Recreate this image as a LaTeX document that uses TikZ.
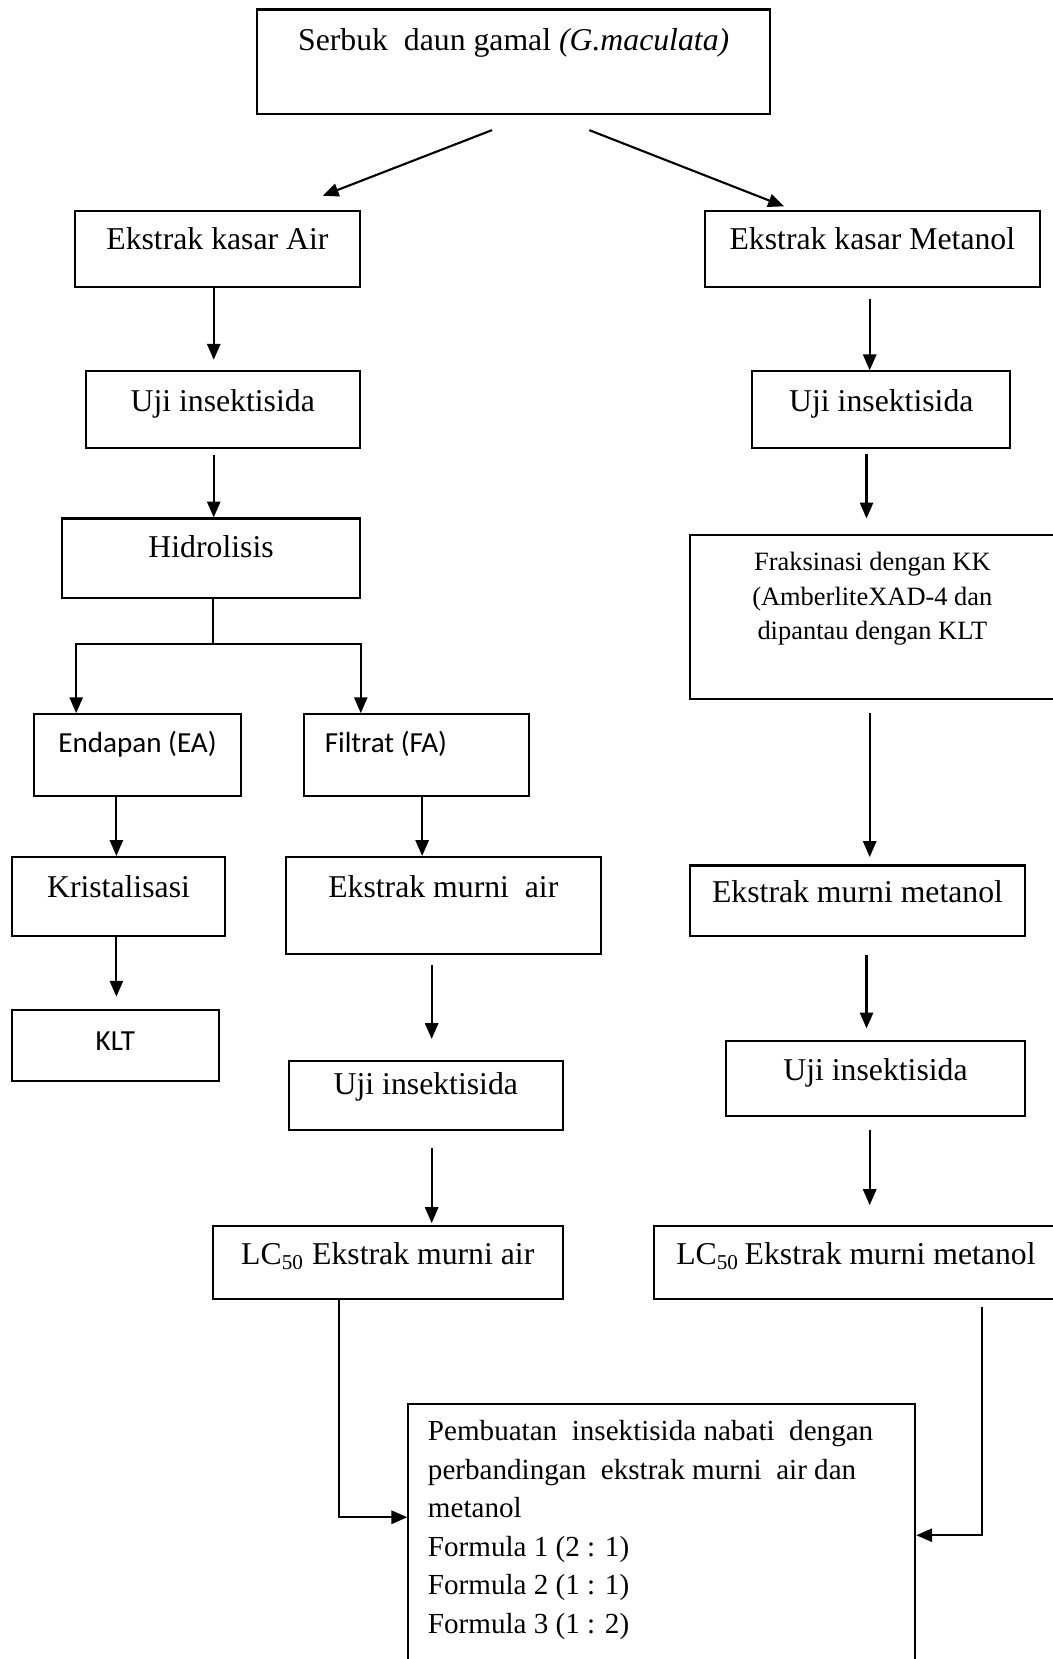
\documentclass[tikz,border=0pt]{standalone}
\usepackage{fontspec}
\setmainfont{Liberation Serif}
\newfontfamily\sansbox{Carlito}
\usetikzlibrary{arrows.meta}
\newcommand{\px}{0.4pt}

\tikzset{
  box/.style n args={3}{draw, line width=0.8pt, anchor=north, inner sep=0pt,
    minimum width=#1*\px, text height=#3*\px, text depth=(#2-#3)*\px,
    font=\fontsize{12}{14}\selectfont},
  bigbox/.style n args={2}{draw, line width=0.8pt, anchor=north, inner sep=0pt,
    minimum width=#1*\px, minimum height=#2*\px},
  sanstext/.style={font=\sansbox\fontsize{11}{13}\selectfont},
  arr/.style={-{Triangle[length=6pt,width=5pt]}, line width=0.8pt},
  link/.style={line width=0.8pt}
}

\begin{document}
\begin{tikzpicture}[x=\px,y=-\px]
                        \useasboundingbox (0,0) rectangle (995,1568);
                        \clip (0,0) rectangle (995,1568);
                        % Top
                        \node[box={485}{99}{39}] (serbuk) at (485.5,8) {Serbuk~ daun gamal \textit{(G.maculata)}};
                        % Air branch
                        \node[box={269}{72}{37}] (ekair) at (205.5,198) {Ekstrak kasar Air};
                        \node[box={259}{72}{38}] (ujiL) at (210.5,350) {Uji insektisida};
                        \node[box={281}{75}{37}] (hidro) at (199.5,489) {Hidrolisis};
                        \node[box={196}{77}{36},sanstext] (ea) at (130,674) {Endapan (EA)};
                        \node[box={213}{77}{36},sanstext] (fa) at (393.5,674) {\makebox[85.2pt][l]{\hspace{8pt}Filtrat (FA)}};
                        \node[box={202}{75}{38}] (kris) at (112,809) {Kristalisasi};
                        \node[box={298}{92}{38}] (emair) at (419,809) {Ekstrak murni~ air};
                        \node[box={196}{67}{38},sanstext] (klt) at (109,954) {KLT};
                        \node[box={259}{65}{31}] (ujiM) at (402.5,1002) {Uji insektisida};
                        \node[box={331}{69}{36}] (lcair) at (366.5,1158) {LC\textsubscript{50} Ekstrak murni air};
                        % Metanol branch
                        \node[box={317}{72}{37}] (ekmet) at (824.5,198) {Ekstrak kasar Metanol};
                        \node[box={244}{72}{38}] (ujiR) at (833,350) {Uji insektisida};
                        \node[bigbox={345}{155}] (frak) at (824.5,505) {};
                        \node[anchor=north,align=center,inner sep=0pt,font=\fontsize{10}{13.2}\selectfont] (fraktxt) at ([shift={(0,16)}]frak.north) {Fraksinasi dengan KK\\(AmberliteXAD-4 dan\\dipantau dengan KLT};
                        \node[box={317}{67}{35}] (emmet) at (810.5,817) {Ekstrak murni metanol};
                        \node[box={283}{71}{37}] (ujiR2) at (827.5,983) {Uji insektisida};
                        \node[box={382}{69}{36}] (lcmet) at (809,1158) {LC\textsubscript{50}\,Ekstrak murni metanol};
                        % Formula
                        \node[bigbox={479}{300}] (pemb) at (625.5,1326) {};
                        \node[anchor=north west,align=left,inner sep=0pt,font=\fontsize{11}{14.56}\selectfont] (pembtxt) at ([shift={(19,16)}]pemb.north west) {Pembuatan~ insektisida nabati~ dengan\\perbandingan~ ekstrak murni~ air dan\\metanol\\Formula 1 (2 : 1)\\Formula 2 (1 : 1)\\Formula 3 (1 : 2)};
                        % links
                        \draw[arr] ([shift={(-20.5,14)}]serbuk.south) -- ([shift={(99.5,-13)}]ekair.north);
                        \draw[arr] ([shift={(71.5,14)}]serbuk.south) -- ([shift={(-83.5,-3)}]ekmet.north);
                        \draw[arr] ([shift={(-3.5,0)}]ekair.south) -- ([shift={(-8.5,-10)}]ujiL.north);
                        \draw[arr] ([shift={(-8.5,6)}]ujiL.south) -- ([shift={(2.5,0)}]hidro.north);
                        \coordinate (split) at ([shift={(1.5,43)}]hidro.south);
                        \draw[link] ([shift={(1.5,0)}]hidro.south) -- (split);
                        \draw[arr] (split) -| ([shift={(-58,0)}]ea.north);
                        \draw[arr] (split) -| ([shift={(-52.5,0)}]fa.north);
                        \draw[arr] ([shift={(-20,0)}]ea.south) -- ([shift={(-2,0)}]kris.north);
                        \draw[arr] ([shift={(5.5,0)}]fa.south) -- ([shift={(-20,0)}]emair.north);
                        \draw[arr] ([shift={(-2,0)}]kris.south) -- ([shift={(1,-12)}]klt.north);
                        \draw[arr] ([shift={(-11,9)}]emair.south) -- ([shift={(5.5,-20)}]ujiM.north);
                        \draw[arr] ([shift={(5.5,16)}]ujiM.south) -- ([shift={(41.5,-2)}]lcair.north);
                        \draw[arr] ([shift={(-46.5,0)}]lcair.south) |- ([shift={(0,108)}]pemb.north west);
                        \draw[arr] ([shift={(-2.5,11)}]ekmet.south) -- ([shift={(-11,0)}]ujiR.north);
                        \draw[arr] ([shift={(-14,5)}]ujiR.south) -- ([shift={(-5.5,-15)}]frak.north);
                        \draw[arr] ([shift={(-2.5,12)}]frak.south) -- ([shift={(11.5,-7)}]emmet.north);
                        \draw[arr] ([shift={(8.5,17)}]emmet.south) -- ([shift={(-8.5,-11)}]ujiR2.north);
                        \draw[arr] ([shift={(-5.5,12)}]ujiR2.south) -- ([shift={(13,-19)}]lcmet.north);
                        \draw[arr] ([shift={(119,6)}]lcmet.south) |- ([shift={(0,125)}]pemb.north east);
\end{tikzpicture}
\end{document}
